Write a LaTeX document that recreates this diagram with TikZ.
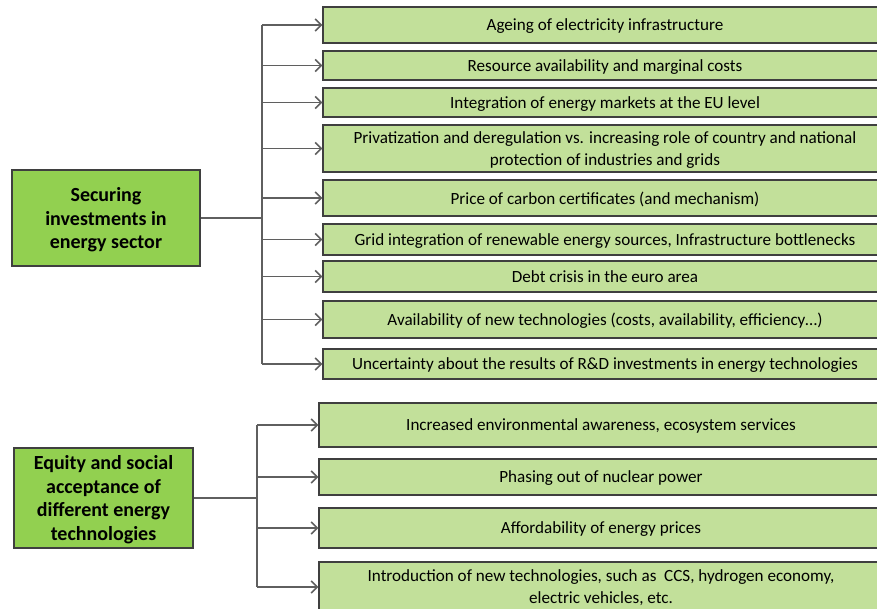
\documentclass[tikz,border=0pt]{standalone}
\usepackage{fontspec}
\setmainfont{Carlito}
\usetikzlibrary{arrows.meta,positioning,calc}
\definecolor{topgreen}{HTML}{92D050}
\definecolor{itemgreen}{HTML}{C2E09A}
\definecolor{boxline}{HTML}{3F3F3F}
\definecolor{connline}{HTML}{5F5F5F}

\begin{document}
\begin{tikzpicture}[
    x=1pt, y=-1pt,
    main/.style={draw=boxline, line width=1.4pt, fill=topgreen, align=center, inner sep=2pt,
        text depth=0pt, font=\fontsize{20}{23.6}\selectfont\bfseries},
    item/.style={draw=boxline, line width=1.4pt, fill=itemgreen, align=center, inner sep=2pt,
        text depth=0pt, minimum width=564pt, font=\fontsize{17.1}{22}\selectfont},
    conn/.style={draw=connline, line width=1.6pt},
    arr/.style={conn, -{Straight Barb[length=6pt, width=12pt, line width=1.5pt]}},
]
\useasboundingbox (0,0) rectangle (877,609);
\clip (0,0) rectangle (877,609);

% first group
\node[main, minimum width=188pt, minimum height=96pt] (secure) at (106,218) {Securing\\investments in\\energy sector};

\node[item, minimum height=36pt] (s1) at (605,25) {Ageing of electricity infrastructure};
\node[item, minimum height=29pt] (s2) at (605,65.5) {Resource availability and marginal costs};
\node[item, minimum height=29pt] (s3) at (605,102.5) {Integration of energy markets at the EU level};
\node[item, minimum height=47pt] (s4) at (605,148.5) {Privatization and deregulation vs. increasing role of country and national\\protection of industries and grids};
\node[item, minimum height=36pt] (s5) at (605,198) {Price of carbon certificates (and mechanism)};
\node[item, minimum height=31pt] (s6) at (605,239.5) {Grid integration of renewable energy sources, Infrastructure bottlenecks};
\node[item, minimum height=31pt] (s7) at (605,276.5) {Debt crisis in the euro area};
\node[item, minimum height=37pt] (s8) at (605,319.5) {Availability of new technologies (costs, availability, efficiency\dots)};
\node[item, minimum height=30pt] (s9) at (605,364) {Uncertainty about the results of R\&D investments in energy technologies};

\coordinate (trunkA) at (262,218);
\draw[conn] (secure.east) -- (trunkA);
\draw[conn] (s1.west -| trunkA) -- (s9.west -| trunkA);
\draw[arr] (s1.west -| trunkA) -- (s1.west);
\draw[arr] (s2.west -| trunkA) -- (s2.west);
\draw[arr] (s3.west -| trunkA) -- (s3.west);
\draw[arr] (s4.west -| trunkA) -- (s4.west);
\draw[arr] (s5.west -| trunkA) -- (s5.west);
\draw[arr] (s6.west -| trunkA) -- (s6.west);
\draw[arr] (s7.west -| trunkA) -- (s7.west);
\draw[arr] (s8.west -| trunkA) -- (s8.west);
\draw[arr] (s9.west -| trunkA) -- (s9.west);

% second group
\node[main, minimum width=179pt, minimum height=100pt] (equity) at (103.5,498) {Equity and social\\acceptance of\\different energy\\technologies};

\node[item, minimum height=44pt] (e1) at (601,425) {Increased environmental awareness, ecosystem services};
\node[item, minimum height=36pt] (e2) at (601,477) {Phasing out of nuclear power};
\node[item, minimum height=40pt] (e3) at (601,528) {Affordability of energy prices};
\node[item, minimum height=50pt] (e4) at (601,587) {Introduction of new technologies, such as\ \ CCS, hydrogen economy,\\electric vehicles, etc.};

\coordinate (trunkB) at (257,498);
\draw[conn] (equity.east) -- (trunkB);
\draw[conn] (e1.west -| trunkB) -- (e4.west -| trunkB);
\draw[arr] (e1.west -| trunkB) -- (e1.west);
\draw[arr] (e2.west -| trunkB) -- (e2.west);
\draw[arr] (e3.west -| trunkB) -- (e3.west);
\draw[arr] (e4.west -| trunkB) -- (e4.west);
\end{tikzpicture}
\end{document}
